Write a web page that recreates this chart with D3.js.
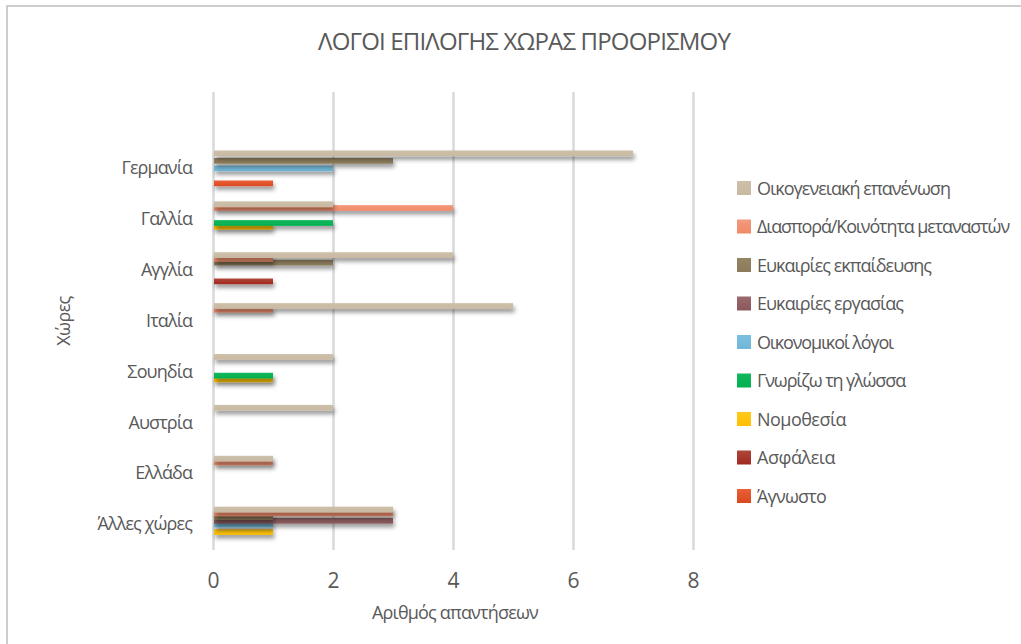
<!DOCTYPE html>
<html>
<head>
<meta charset="utf-8">
<script src="https://cdn.jsdelivr.net/npm/d3@7"></script>
<style>
  html, body { margin: 0; padding: 0; background: #fff; }
  svg { display: block; font-family: "Open Sans", "Noto Sans", sans-serif; font-weight: 400; }
</style>
</head>
<body>
<svg id="chart" width="1021" height="644"></svg>
<script>
// Countries (top to bottom); the first row is an empty slot above Γερμανία
const categories = ["", "Γερμανία", "Γαλλία", "Αγγλία", "Ιταλία", "Σουηδία ", "Αυστρία", "Ελλάδα", "Άλλες χώρες"];

const seriesNames = [
  "Οικογενειακή επανένωση",
  "Διασπορά/Κοινότητα μεταναστών",
  "Ευκαιρίες εκπαίδευσης",
  "Ευκαιρίες εργασίας",
  "Οικονομικοί λόγοι",
  "Γνωρίζω τη γλώσσα",
  "Νομοθεσία",
  "Ασφάλεια",
  "Άγνωστο"
];

// Number of answers per country, one array per reason
const oikogeneiaki = [0, 7, 2, 4, 5, 2, 2, 1, 3];
const diaspora     = [0, 0, 4, 1, 1, 0, 0, 1, 3];
const ekpaideusi   = [0, 3, 0, 2, 0, 0, 0, 0, 1];
const ergasia      = [0, 0, 0, 0, 0, 0, 0, 0, 3];
const oikonomikoi  = [0, 2, 0, 0, 0, 0, 0, 0, 1];
const glossa       = [0, 0, 2, 0, 0, 1, 0, 0, 0];
const nomothesia   = [0, 0, 1, 0, 0, 1, 0, 0, 1];
const asfaleia     = [0, 0, 0, 1, 0, 0, 0, 0, 0];
const agnosto      = [0, 1, 0, 0, 0, 0, 0, 0, 0];

const seriesValues = [oikogeneiaki, diaspora, ekpaideusi, ergasia, oikonomikoi, glossa, nomothesia, asfaleia, agnosto];

const xTicks = [0, 2, 4, 6, 8];

const colors = ["#c9b9a2", "#f08a69", "#8b7b58", "#8b585b", "#6fb6d9", "#00b050", "#ffc000", "#9e2a1e", "#dc4a1e"];
const colorsTop = ["#cdbfa9", "#f39a7d", "#968565", "#9a6a6d", "#7cbfe0", "#12b85c", "#ffc81a", "#b0453a", "#e85f36"];

const textColor = "#595959";
const svg = d3.select("#chart");

const plot = { left: 213, right: 693, top: 92, bottom: 550 };

const x = d3.scaleLinear().domain([0, 8]).range([plot.left, plot.right]);
const y = d3.scaleBand().domain(categories).range([plot.top, plot.bottom]);
const inner = d3.scalePoint().domain(seriesNames).range([-15, 15]);
const barH = 5.7;

// squeeze a text's letter spacing so it spans the given width
function fitWidth(sel, width) {
  sel.each(function () {
    const n = this.textContent.length;
    const w = this.getComputedTextLength();
    if (n > 1) d3.select(this).attr("letter-spacing", (width - w) / n);
  });
}

// defs: drop shadow and per-series gradients
const defs = svg.append("defs");
const f = defs.append("filter").attr("id", "shadow")
  .attr("x", "-10%").attr("y", "-60%").attr("width", "130%").attr("height", "300%");
f.append("feDropShadow").attr("dx", 1.5).attr("dy", 3.5).attr("stdDeviation", 2)
  .attr("flood-color", "#000").attr("flood-opacity", 0.42);

seriesNames.forEach((s, i) => {
  const g = defs.append("linearGradient").attr("id", "grad" + i)
    .attr("x1", 0).attr("y1", 0).attr("x2", 0).attr("y2", 1);
  g.append("stop").attr("offset", "0%").attr("stop-color", colorsTop[i]);
  g.append("stop").attr("offset", "100%").attr("stop-color", colors[i]);
});

// outer chart border
svg.append("rect")
  .attr("x", 7).attr("y", 6).attr("width", 1030).attr("height", 660)
  .attr("fill", "none").attr("stroke", "#bdbdbd").attr("stroke-width", 1.5);

// title
svg.append("text")
  .attr("x", 318).attr("y", 50)
  .attr("font-size", 24)
  .attr("fill", textColor)
  .text("ΛΟΓΟΙ ΕΠΙΛΟΓΗΣ ΧΩΡΑΣ ΠΡΟΟΡΙΣΜΟΥ")
  .call(fitWidth, 412);

// vertical gridlines + value labels
const xAxis = svg.append("g")
  .attr("transform", `translate(0,${plot.bottom})`)
  .call(d3.axisBottom(x).tickValues(xTicks).tickSize(-(plot.bottom - plot.top)).tickPadding(23));
xAxis.select(".domain").remove();
xAxis.selectAll(".tick line").attr("stroke", "#d9d9d9").attr("stroke-width", 2.5);
xAxis.selectAll(".tick text")
  .attr("fill", textColor).attr("font-size", 21)
  .attr("font-family", "'Open Sans', sans-serif");

// category labels
const yAxis = svg.append("g")
  .attr("transform", `translate(${plot.left},0)`)
  .call(d3.axisLeft(y).tickSize(0).tickPadding(21));
yAxis.select(".domain").remove();
yAxis.selectAll(".tick text")
  .attr("fill", textColor).attr("font-size", 18)
  .attr("font-family", "'Open Sans', sans-serif")
  .attr("letter-spacing", -0.9);

// bars: later series drawn first so earlier ones sit on top
const barsG = svg.append("g");
for (let i = seriesNames.length - 1; i >= 0; i--) {
  const vals = seriesValues[i];
  barsG.append("g")
    .attr("filter", "url(#shadow)")
    .selectAll("rect")
    .data(categories.map((c, k) => ({ c, v: vals[k] })).filter(d => d.v > 0))
    .join("rect")
    .attr("x", x(0) + 1)
    .attr("y", d => y(d.c) + y.bandwidth() / 2 + inner(seriesNames[i]) - barH / 2)
    .attr("width", d => x(d.v) - x(0) - 1)
    .attr("height", barH)
    .attr("fill", `url(#grad${i})`);
}

// axis titles
svg.append("text")
  .attr("x", 372).attr("y", 619)
  .attr("font-size", 18).attr("fill", textColor)
  .text("Αριθμός απαντήσεων")
  .call(fitWidth, 166);

svg.append("text")
  .attr("transform", "translate(70,321) rotate(-90)")
  .attr("text-anchor", "middle")
  .attr("font-size", 18).attr("fill", textColor)
  .attr("letter-spacing", -0.6)
  .text("Χώρες");

// legend
const legendWidths = [193, 252, 174, 146, 136, 148, 89, 78, 69];
const legend = svg.append("g");
seriesNames.forEach((s, i) => {
  const cy = 188 + i * 38.5;
  legend.append("rect")
    .attr("x", 737).attr("y", cy - 7).attr("width", 14).attr("height", 14)
    .attr("fill", `url(#grad${i})`);
  legend.append("text")
    .attr("x", 757).attr("y", cy + 6.5)
    .attr("font-size", 18).attr("fill", textColor)
    .text(s)
    .call(fitWidth, legendWidths[i]);
});
</script>
</body>
</html>
